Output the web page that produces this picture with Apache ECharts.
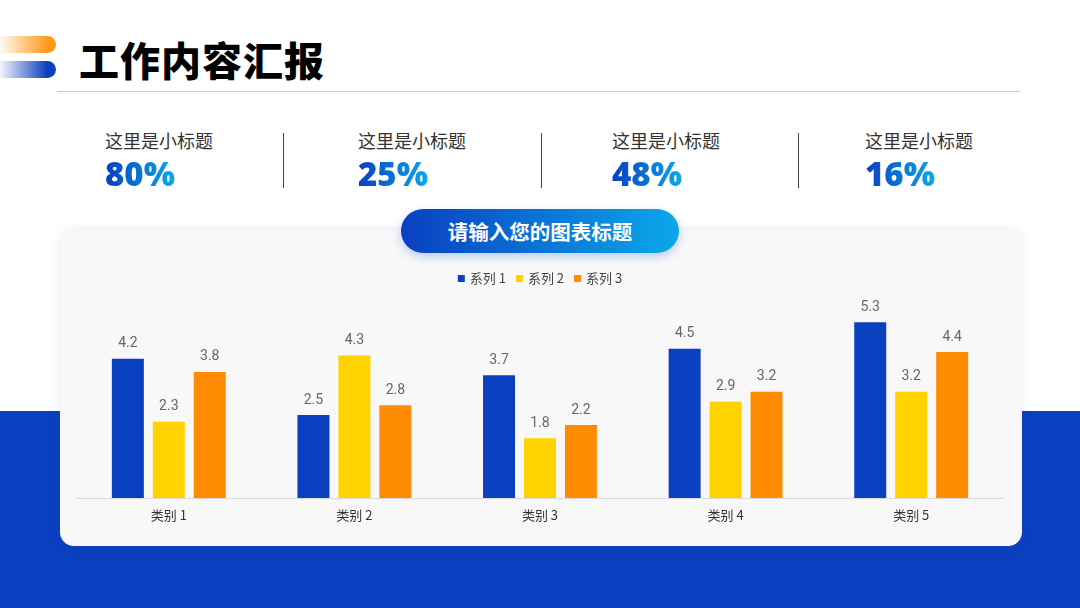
<!DOCTYPE html>
<html><head><meta charset="utf-8">
<script src="https://cdn.jsdelivr.net/npm/echarts@6/dist/echarts.min.js"></script>
<style>
html,body{margin:0;padding:0;width:1080px;height:608px;overflow:hidden;background:#fff;font-family:"Noto Sans CJK SC","Noto Sans",sans-serif;}
#band{position:absolute;left:0;top:411px;width:1080px;height:197px;background:#0a3fc0;}
.pill{position:absolute;left:0;width:56px;height:17px;border-radius:0 9px 9px 0;}
#p1{top:36px;background:linear-gradient(90deg,rgba(255,160,40,0.05),#ff9a1a 85%);}
#p2{top:61px;background:linear-gradient(90deg,rgba(10,63,192,0.05),#0a3fc0 85%);}
#title{position:absolute;left:79px;top:33px;font-size:40px;font-weight:900;color:#000;line-height:52px;letter-spacing:1px;}
#hline{position:absolute;left:57px;top:91px;width:963px;height:1px;background:#c8c8c8;}
.kpi{position:absolute;top:127px;}
.kpi .lab{font-size:18px;color:#333;line-height:27px;}
.kpi .num{font-size:33px;font-weight:900;line-height:40px;margin-top:0px;font-family:"Noto Sans","Noto Sans CJK SC",sans-serif;background:linear-gradient(90deg,#0a3fc0,#0aa8ea);-webkit-background-clip:text;background-clip:text;color:transparent;display:inline-block;}
.vd{position:absolute;top:133px;width:1px;height:55px;background:#444;}
#card{position:absolute;left:60px;top:230px;width:962px;height:316px;border-radius:14px;background:#f8f8f9;box-shadow:0 0 8px rgba(60,100,200,0.15);}
#pilltitle{position:absolute;left:401px;top:209px;width:278px;height:44px;border-radius:22px;background:linear-gradient(90deg,#0a3fc0,#0aa8ea);color:#fff;font-size:20.5px;font-weight:bold;text-align:center;line-height:44px;box-shadow:0 4px 10px rgba(10,80,200,0.25);}
#chart{position:absolute;left:0;top:0;width:1080px;height:608px;}
</style></head>
<body>
<div id="band"></div>
<div class="pill" id="p1"></div>
<div class="pill" id="p2"></div>
<div id="title">工作内容汇报</div>
<div id="hline"></div>
<div id="kpis"></div>
<div id="card"></div>
<div id="pilltitle">请输入您的图表标题</div>
<div id="chart"></div>
<script>
var categories = ['类别 1','类别 2','类别 3','类别 4','类别 5'];
var seriesNames = ['系列 1','系列 2','系列 3'];
var series1 = [4.2, 2.5, 3.7, 4.5, 5.3];
var series2 = [2.3, 4.3, 1.8, 2.9, 3.2];
var series3 = [3.8, 2.8, 2.2, 3.2, 4.4];
var kpiLabels = ['这里是小标题','这里是小标题','这里是小标题','这里是小标题'];
var kpiValues = ['80%','25%','48%','16%'];

var kx = [105, 358, 612, 865];
var dx = [283, 541, 798];
var kh = '';
for (var i = 0; i < kpiLabels.length; i++) {
  kh += '<div class="kpi" style="left:' + kx[i] + 'px"><div class="lab">' + kpiLabels[i] + '</div><div class="num">' + kpiValues[i] + '</div></div>';
}
for (var j = 0; j < dx.length; j++) kh += '<div class="vd" style="left:' + dx[j] + 'px"></div>';
document.getElementById('kpis').innerHTML = kh;

var colors = ['#0a41c0', '#ffd200', '#ff8c00'];
var data = [series1, series2, series3];
var chart = echarts.init(document.getElementById('chart'), null, {renderer: 'canvas'});
var lbl = {show: true, position: 'top', color: '#666', fontSize: 14, distance: 8, fontFamily: 'Roboto, "Noto Sans", sans-serif'};
chart.setOption({
  animation: false,
  color: colors,
  legend: {
    top: 267, left: 'center', itemWidth: 7, itemHeight: 7, itemGap: 10, icon: 'rect',
    textStyle: {color: '#444', fontSize: 13, fontFamily: '"Noto Sans CJK SC", sans-serif'},
    data: seriesNames
  },
  grid: {left: 76, right: 76, top: 299, bottom: 110, containLabel: false},
  xAxis: {
    type: 'category', data: categories,
    axisLine: {lineStyle: {color: '#d9d9d9'}},
    axisTick: {show: false},
    axisLabel: {color: '#333', fontSize: 13, margin: 11, fontFamily: '"Noto Sans CJK SC", sans-serif'}
  },
  yAxis: {type: 'value', min: 0, max: 6, show: false, splitLine: {show: false}},
  series: seriesNames.map(function (n, i) {
    return {name: n, type: 'bar', data: data[i], barWidth: 32, barGap: '28%', label: lbl};
  })
});
</script>
</body></html>
